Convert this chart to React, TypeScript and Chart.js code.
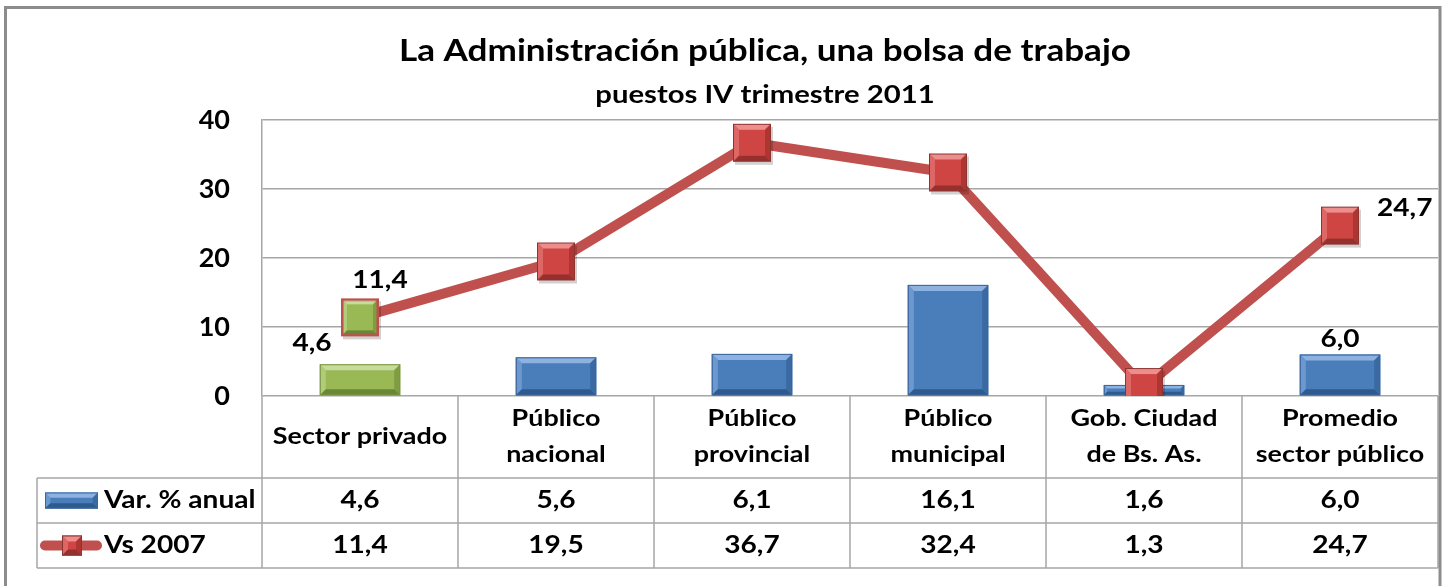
import { useEffect, useRef } from 'react';
import { Chart, registerables } from 'chart.js';

Chart.register(...registerables);

const chartTitle = 'La Administración pública, una bolsa de trabajo';
const chartSubtitle = 'puestos IV trimestre 2011';
const categories: string[][] = [
  ['Sector privado'],
  ['Público', 'nacional'],
  ['Público', 'provincial'],
  ['Público', 'municipal'],
  ['Gob. Ciudad', 'de Bs. As.'],
  ['Promedio', 'sector público'],
];
const seriesNames = ['Var. % anual', 'Vs 2007'];
const varAnual = [4.6, 5.6, 6.1, 16.1, 1.6, 6.0];
const vs2007 = [11.4, 19.5, 36.7, 32.4, 1.3, 24.7];
const yMin = 0;
const yMax = 40;
const yStep = 10;
const barLabelIdx = [0, 5];
const lineLabelIdx = [0, 5];

const FONT = 'Lato, "Open Sans", sans-serif';
const SX = 1.17;
const fmt = (v: number) => v.toFixed(1).replace('.', ',');

type Pal = { base: string; top: string; left: string; right: string; bottom: string; border: string };
const BLUE: Pal = { base: '#4A7EBB', top: '#8DB2E2', left: '#6C98CF', right: '#3B69A1', bottom: '#2E5A8F', border: '#3A6699' };
const GREEN: Pal = { base: '#98B954', top: '#C6DC9E', left: '#B0CB7A', right: '#7F9D43', bottom: '#6A8636', border: '#7A9640' };
const RED: Pal = { base: '#CF4543', top: '#EC8E8B', left: '#DD6764', right: '#AD3633', bottom: '#96302D', border: '#8E3330' };

function text(ctx: CanvasRenderingContext2D, t: string, x: number, y: number, size: number, align: CanvasTextAlign = 'center') {
  ctx.save();
  ctx.font = `bold ${size}px ${FONT}`;
  ctx.fillStyle = '#000';
  ctx.textAlign = align;
  ctx.textBaseline = 'middle';
  ctx.translate(x, y);
  ctx.scale(SX, 1);
  ctx.fillText(t, 0, 0);
  ctx.restore();
}

function bevel(ctx: CanvasRenderingContext2D, x: number, y: number, w: number, h: number, p: Pal, borderColor?: string, bw = 1) {
  const b = Math.max(1, Math.min(6, h / 3, w / 3));
  ctx.save();
  ctx.fillStyle = p.base;
  ctx.fillRect(x, y, w, h);
  const poly = (pts: number[][], c: string) => {
    ctx.fillStyle = c;
    ctx.beginPath();
    ctx.moveTo(pts[0][0], pts[0][1]);
    for (let i = 1; i < pts.length; i++) ctx.lineTo(pts[i][0], pts[i][1]);
    ctx.closePath();
    ctx.fill();
  };
  poly([[x, y], [x + w, y], [x + w - b, y + b], [x + b, y + b]], p.top);
  poly([[x, y], [x + b, y + b], [x + b, y + h - b], [x, y + h]], p.left);
  poly([[x + w, y], [x + w - b, y + b], [x + w - b, y + h - b], [x + w, y + h]], p.right);
  poly([[x, y + h], [x + b, y + h - b], [x + w - b, y + h - b], [x + w, y + h]], p.bottom);
  ctx.strokeStyle = borderColor || p.border;
  ctx.lineWidth = bw;
  ctx.strokeRect(x + bw / 2, y + bw / 2, w - bw, h - bw);
  ctx.restore();
}

function makeMarker(size: number, p: Pal, borderColor?: string, bw = 1) {
  const pad = 5;
  const c = document.createElement('canvas');
  c.width = size + pad * 2;
  c.height = size + pad * 2;
  const g = c.getContext('2d')!;
  g.fillStyle = 'rgba(0,0,0,0.18)';
  g.fillRect(pad + 2, pad + 3, size, size);
  bevel(g, pad, pad, size, size, p, borderColor, bw);
  return c;
}

export default function App() {
  const ref = useRef<HTMLCanvasElement>(null);

  useEffect(() => {
    document.body.style.margin = '0';
    const canvas = ref.current!;
    const redMarker = makeMarker(38, RED);
    const greenMarker = makeMarker(38, GREEN, '#C0504D', 2.5);
    const pointStyles = vs2007.map((_, i) => (i === 0 ? greenMarker : redMarker));

    const decorPlugin = {
      id: 'decor',
      afterDatasetDraw(chart: any, args: any) {
        if (args.index !== 0) return;
        const ctx = chart.ctx;
        const meta = chart.getDatasetMeta(0);
        meta.data.forEach((el: any, i: number) => {
          const w = el.width;
          const top = Math.min(el.y, el.base);
          const h = Math.abs(el.base - el.y);
          bevel(ctx, el.x - w / 2, top, w, h, i === 0 ? GREEN : BLUE);
        });
      },
      afterDatasetsDraw(chart: any) {
        const ctx = chart.ctx;
        const bars = chart.getDatasetMeta(0).data;
        const pts = chart.getDatasetMeta(1).data;
        barLabelIdx.forEach((i) => {
          const el = bars[i];
          if (i === 0) text(ctx, fmt(varAnual[i]), el.x - 48, el.y - 21, 24);
          else text(ctx, fmt(varAnual[i]), el.x, el.y - 15, 24);
        });
        lineLabelIdx.forEach((i) => {
          const el = pts[i];
          if (i === 0) text(ctx, fmt(vs2007[i]), el.x + 20, el.y - 37, 24);
          else text(ctx, fmt(vs2007[i]), el.x + 37, el.y - 17, 24, 'left');
        });
      },
      afterDraw(chart: any) {
        const ctx = chart.ctx;
        const { left, right, bottom } = chart.chartArea;
        const n = categories.length;
        const colW = (right - left) / n;
        const catH = 82;
        const rowH = 45;
        const tableLeft = 37;
        const y1 = bottom + catH;
        const y2 = y1 + rowH;
        const y3 = y2 + rowH;

        text(ctx, chartTitle, 765, 51, 30);
        text(ctx, chartSubtitle, 765, 95, 25);

        ctx.save();
        ctx.strokeStyle = '#A6A6A6';
        ctx.lineWidth = 1.5;
        ctx.beginPath();
        for (let i = 0; i <= n; i++) {
          const x = left + i * colW;
          ctx.moveTo(x, bottom);
          ctx.lineTo(x, y3);
        }
        [y1, y2, y3].forEach((y) => {
          ctx.moveTo(tableLeft, y);
          ctx.lineTo(right, y);
        });
        ctx.moveTo(tableLeft, y1);
        ctx.lineTo(tableLeft, y3);
        ctx.stroke();
        ctx.restore();

        const xs = chart.scales.x;
        categories.forEach((lines, i) => {
          const cx = xs.getPixelForValue(i);
          const mid = bottom + catH / 2;
          const lh = 36;
          lines.forEach((t, j) => {
            text(ctx, t, cx, mid + (j - (lines.length - 1) / 2) * lh, 23);
          });
          text(ctx, fmt(varAnual[i]), cx, (y1 + y2) / 2, 24);
          text(ctx, fmt(vs2007[i]), cx, (y2 + y3) / 2, 24);
        });

        // legend column
        bevel(ctx, 45, (y1 + y2) / 2 - 8, 53, 16, BLUE);
        text(ctx, seriesNames[0], 104, (y1 + y2) / 2, 24, 'left');
        const ly = (y2 + y3) / 2;
        ctx.save();
        ctx.strokeStyle = '#C0504D';
        ctx.lineWidth = 10;
        ctx.lineCap = 'round';
        ctx.beginPath();
        ctx.moveTo(45, ly);
        ctx.lineTo(97, ly);
        ctx.stroke();
        ctx.restore();
        bevel(ctx, 62, ly - 10, 20, 20, RED);
        text(ctx, seriesNames[1], 104, ly, 24, 'left');

        // outer frame
        ctx.save();
        ctx.strokeStyle = '#8C8C8C';
        ctx.lineWidth = 3;
        ctx.strokeRect(5.5, 7.5, 1434.5, 620);
        ctx.restore();
      },
    };

    const chart = new Chart(canvas, {
      type: 'bar',
      data: {
        labels: categories.map((c) => c.join(' ')),
        datasets: [
          {
            type: 'bar',
            label: seriesNames[0],
            data: varAnual,
            backgroundColor: varAnual.map((_, i) => (i === 0 ? GREEN.base : BLUE.base)),
            borderWidth: 0,
            barPercentage: 0.41,
            categoryPercentage: 1,
            order: 1,
          },
          {
            type: 'line',
            label: seriesNames[1],
            data: vs2007,
            borderColor: '#C0504D',
            borderWidth: 10,
            borderJoinStyle: 'round',
            borderCapStyle: 'round',
            pointStyle: pointStyles as any,
            pointRadius: 19,
            tension: 0,
            order: 0,
          } as any,
        ],
      },
      options: {
        responsive: false,
        animation: false,
        devicePixelRatio: 1,
        layout: { autoPadding: false, padding: { top: 120, bottom: 190, left: 0, right: 7 } },
        plugins: {
          legend: { display: false },
          title: { display: false },
          tooltip: { enabled: false },
        },
        scales: {
          x: {
            type: 'category',
            ticks: { display: false },
            grid: { display: false },
            border: { display: false },
            afterFit: (s: any) => {
              s.height = 0;
            },
          },
          y: {
            min: yMin,
            max: yMax,
            ticks: {
              stepSize: yStep,
              color: '#000',
              padding: 32,
              font: { family: FONT, size: 27, weight: 'bold' },
            },
            grid: { color: '#A6A6A6', lineWidth: 1.5, drawTicks: false },
            border: { display: true, color: '#A6A6A6', width: 1.5 },
            afterFit: (s: any) => {
              s.width = 262;
            },
          },
        },
      },
      plugins: [decorPlugin],
    } as any);

    return () => chart.destroy();
  }, []);

  return (
    <div style={{ position: 'fixed', left: 0, top: 0, width: 1445, height: 586, background: '#fff' }}>
      <canvas ref={ref} width={1445} height={586} style={{ display: 'block' }} />
    </div>
  );
}
